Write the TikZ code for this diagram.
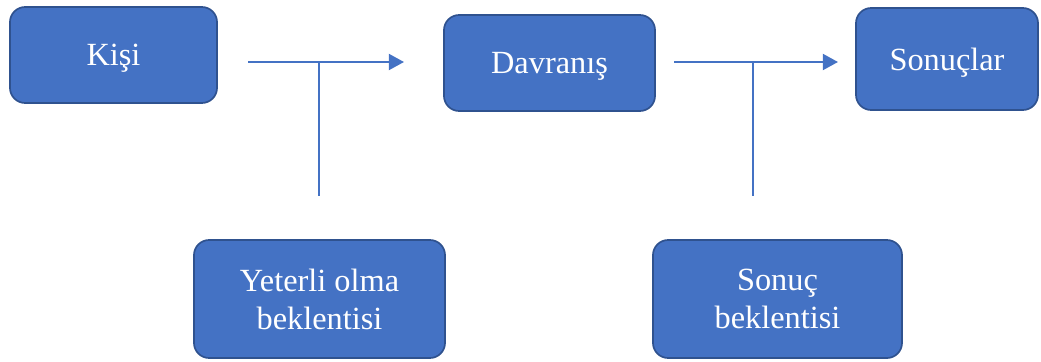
\documentclass[tikz,border=0pt]{standalone}
\usepackage{fontspec}
\setmainfont{Liberation Serif}
\usepackage{tikz}
\usetikzlibrary{positioning, arrows.meta, calc}

\definecolor{kutumavi}{HTML}{4472C4}
\definecolor{kenarmavi}{HTML}{2F528F}

\begin{document}
\begin{tikzpicture}[x=0.025cm, y=-0.025cm,
  kutu/.style={draw=kenarmavi, line width=1.2pt, fill=kutumavi, rounded corners=0.38cm,
    text=white, align=center, inner sep=0pt, text depth=-0.13cm,
    font=\fontsize{23}{27}\selectfont},
  ok/.style={draw=kutumavi, line width=1.6pt, -{Triangle[length=0.38cm, width=0.4cm]}},
  cizgi/.style={draw=kutumavi, line width=0.9pt}]

\useasboundingbox (0,0) rectangle (1041,362);

%//ust sira
\node [kutu, minimum width=5.175cm, minimum height=2.4cm] (kisi) at (113.5,55) {Kişi};
\node [kutu, minimum width=5.275cm, minimum height=2.4cm] (davranis) at (549.5,63) {Davranış};
\node [kutu, minimum width=4.55cm, minimum height=2.55cm] (sonuclar) at (947,59) {Sonuçlar};

%//alt sira
\node [kutu, minimum width=6.275cm, minimum height=2.95cm] (yeterli) at (319.5,299) {Yeterli olma\\beklentisi};
\node [kutu, minimum width=6.225cm, minimum height=2.95cm] (sonuc) at (777.5,299) {Sonuç\\beklentisi};

\coordinate (o1bas) at (248,62);
\coordinate (o1son) at (404,62);
\coordinate (o2bas) at (674,62);
\coordinate (o2son) at (838,62);
\coordinate (d1) at (319,62);
\coordinate (d1alt) at (319,196);
\coordinate (d2) at (753,62);
\coordinate (d2alt) at (753,196);

\draw [ok] (o1bas) -- (o1son);
\draw [ok] (o2bas) -- (o2son);
\draw [cizgi] (d1) -- (d1alt);
\draw [cizgi] (d2) -- (d2alt);

\end{tikzpicture}
\end{document}
